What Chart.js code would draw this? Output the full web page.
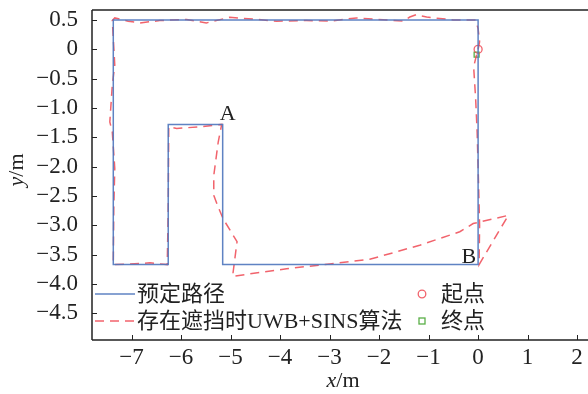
<!DOCTYPE html>
<html><head><meta charset="utf-8">
<script src="https://cdn.jsdelivr.net/npm/chart.js@4/dist/chart.umd.min.js"></script>
<style>html,body{margin:0;padding:0;background:#fff}#wrap{width:588px;height:394px;position:relative}</style>
</head><body><div id="wrap"><canvas id="c" width="588" height="394"></canvas></div>
<script>
// ---- data ----
const xTicks = [-7, -6, -5, -4, -3, -2, -1, 0, 1, 2];
const yTicks = [0.5, 0, -0.5, -1.0, -1.5, -2.0, -2.5, -3.0, -3.5, -4.0, -4.5];
const seriesNames = ['预定路径', '存在遮挡时UWB+SINS算法', '起点', '终点'];
const planX = [0, 0, -7.37, -7.37, -6.26, -6.26, -5.16, -5.16, 0, 0];
const planY = [0, 0.5, 0.5, -3.67, -3.67, -1.28, -1.28, -3.67, -3.67, 0];
const algoX = [0, 0.03, 0, -0.05, -0.5, -1.04, -1.25, -1.38, -1.52, -2.05, -2.46, -3.0, -3.47, -4.07, -4.48, -5.02, -5.49, -5.89, -6.43, -6.83, -7.07, -7.34, -7.39,
  -7.34, -7.39, -7.44, -7.39, -7.34, -7.36, -7.37, -7.04, -6.63, -6.28, -6.26, -6.25, -6.09, -5.62, -5.18,
  -5.25, -5.34, -5.34, -5.25, -5.15, -4.87, -4.96, -3.87, -3.0, -2.19, -1.18, -0.37, -0.1, 0.61, 0.02, 0.03, 0.0, -0.02, -0.05, -0.09, -0.03];
const algoY = [0, 0.13, 0.35, 0.5, 0.5, 0.55, 0.59, 0.55, 0.48, 0.51, 0.535, 0.48, 0.49, 0.48, 0.51, 0.545, 0.45, 0.51, 0.49, 0.45, 0.48, 0.535, 0.49,
  -0.27, -0.61, -1.24, -1.41, -2.03, -2.72, -3.67, -3.66, -3.64, -3.67, -2.72, -1.32, -1.35, -1.32, -1.28,
  -1.58, -2.15, -2.49, -2.69, -2.89, -3.28, -3.87, -3.74, -3.66, -3.58, -3.34, -3.11, -2.97, -2.83, -3.67, -3.0, -2.0, -1.4, -0.84, -0.3, -0.09];
const startPt = [0, 0];
const endPt = [-0.03, -0.09];
const cornerLabels = ['A', 'B'];
const cornerX = [-5.16, 0];
const cornerY = [-1.28, -3.67];

// ---- styles ----
const BLUE = 'rgba(78,118,188,0.9)';
const RED = 'rgba(238,72,82,0.85)';
const GREEN = 'rgba(80,170,60,0.95)';
const FONT = "'Liberation Serif', 'Noto Sans CJK SC', serif";
const toPts = (xs, ys) => xs.map((x, i) => ({x, y: ys[i]}));
const fmt = v => (v < 0 ? '\u2212' : '') + Math.abs(v).toString();
const fmtY = v => v === 0 ? '0' : (v < 0 ? '\u2212' : '') + Math.abs(v).toFixed(1);

const decor = {
  id: 'decor',
  afterDraw(chart) {
    const {ctx, chartArea: a, scales: {x, y}} = chart;
    ctx.save();
    // axis lines
    ctx.strokeStyle = '#222'; ctx.lineWidth = 1.5;
    ctx.beginPath();
    ctx.moveTo(a.left, a.top); ctx.lineTo(a.right, a.top);
    ctx.moveTo(a.left, a.top); ctx.lineTo(a.left, a.bottom);
    ctx.moveTo(a.left, a.bottom); ctx.lineTo(a.right, a.bottom);
    ctx.stroke();
    // inward ticks
    ctx.lineWidth = 1;
    ctx.beginPath();
    xTicks.forEach(v => { const px = Math.round(x.getPixelForValue(v)) + 0.5; ctx.moveTo(px, a.bottom); ctx.lineTo(px, a.bottom - 5); });
    yTicks.forEach(v => { const py = Math.round(y.getPixelForValue(v)) + 0.5; ctx.moveTo(a.left, py); ctx.lineTo(a.left + 5, py); });
    ctx.stroke();
    // axis titles
    ctx.fillStyle = '#222';
    ctx.textBaseline = 'middle';
    const drawTitle = (cx, cy, rot) => {
      ctx.save(); ctx.translate(cx, cy); if (rot) ctx.rotate(-Math.PI / 2);
      ctx.font = "italic 22px 'Liberation Serif'"; const w1 = ctx.measureText('x').width;
      ctx.font = "22px 'Liberation Serif'"; const w2 = ctx.measureText('/m').width;
      const s = -(w1 + w2) / 2;
      ctx.textAlign = 'left';
      ctx.font = "italic 22px 'Liberation Serif'"; ctx.fillText(rot ? 'y' : 'x', s, 0);
      ctx.font = "22px 'Liberation Serif'"; ctx.fillText('/m', s + w1, 0);
      ctx.restore();
    };
    drawTitle((a.left + a.right) / 2 + 3, 381, false);
    drawTitle(17, (a.top + a.bottom) / 2 - 5, true);
    // corner labels
    ctx.font = "22px 'Liberation Serif'";
    ctx.textBaseline = 'alphabetic';
    cornerLabels.forEach((t, i) => {
      const px = x.getPixelForValue(cornerX[i]), py = y.getPixelForValue(cornerY[i]);
      if (i === 0) { ctx.textAlign = 'left'; ctx.fillText(t, px - 3, py - 4); }
      else { ctx.textAlign = 'right'; ctx.fillText(t, px - 2, py - 2); }
    });
    // legend
    const ds = chart.data.datasets;
    ctx.font = '22px ' + FONT;
    ctx.textAlign = 'left'; ctx.textBaseline = 'middle';
    const rows = [294, 321];
    [0, 1].forEach(i => {
      ctx.save();
      ctx.strokeStyle = ds[i].borderColor; ctx.lineWidth = ds[i].borderWidth;
      ctx.setLineDash(ds[i].borderDash || []);
      ctx.beginPath(); ctx.moveTo(a.left + 3, rows[i]); ctx.lineTo(a.left + 43, rows[i]); ctx.stroke();
      ctx.restore();
      ctx.fillText(ds[i].label, a.left + 45, rows[i] + 1);
    });
    // marker legend
    ctx.save();
    ctx.lineWidth = 1.3;
    ctx.strokeStyle = ds[2].borderColor;
    ctx.beginPath(); ctx.arc(422, rows[0], 3.8, 0, Math.PI * 2); ctx.stroke();
    ctx.strokeStyle = ds[3].borderColor;
    ctx.strokeRect(419, rows[1] - 3, 6, 6);
    ctx.restore();
    ctx.fillText(ds[2].label, 441, rows[0] + 1);
    ctx.fillText(ds[3].label, 441, rows[1] + 1);
    ctx.restore();
  }
};

new Chart(document.getElementById('c'), {
  type: 'scatter',
  data: {
    datasets: [
      {label: seriesNames[0], data: toPts(planX, planY), showLine: true, borderColor: BLUE, borderWidth: 1.5, pointRadius: 0, fill: false, tension: 0},
      {label: seriesNames[1], data: toPts(algoX, algoY), showLine: true, borderColor: RED, borderWidth: 1.5, borderDash: [9, 6], pointRadius: 0, fill: false, tension: 0},
      {label: seriesNames[2], data: [{x: startPt[0], y: startPt[1]}], pointStyle: 'circle', pointRadius: 4, borderColor: RED, backgroundColor: 'rgba(0,0,0,0)', borderWidth: 1.3},
      {label: seriesNames[3], data: [{x: endPt[0], y: endPt[1]}], pointStyle: 'rect', pointRadius: 3.5, borderColor: GREEN, backgroundColor: 'rgba(0,0,0,0)', borderWidth: 1.3}
    ]
  },
  options: {
    responsive: false, animation: false, devicePixelRatio: 1,
    layout: {autoPadding: false, padding: {top: 10, right: 0, left: 0, bottom: 0}},
    plugins: {legend: {display: false}, tooltip: {enabled: false}},
    scales: {
      x: {
        type: 'linear', min: -7.8, max: 2.22,
        afterBuildTicks: s => { s.ticks = xTicks.map(v => ({value: v})); },
        afterFit: s => { s.height = 54; s.paddingLeft = 0; s.paddingRight = 0; },
        grid: {display: false, drawTicks: false}, border: {display: false},
        ticks: {callback: v => fmt(v), font: {family: "'Liberation Serif'", size: 23}, color: '#222', padding: 4, maxRotation: 0, autoSkip: false}
      },
      y: {
        type: 'linear', min: -4.955, max: 0.67,
        afterBuildTicks: s => { s.ticks = yTicks.map(v => ({value: v})); },
        afterFit: s => { s.width = 92; s.paddingTop = 0; s.paddingBottom = 0; },
        grid: {display: false, drawTicks: false}, border: {display: false},
        ticks: {callback: v => fmtY(v), font: {family: "'Liberation Serif'", size: 23}, color: '#222', padding: 14, autoSkip: false}
      }
    }
  },
  plugins: [decor]
});
</script>
</body></html>
